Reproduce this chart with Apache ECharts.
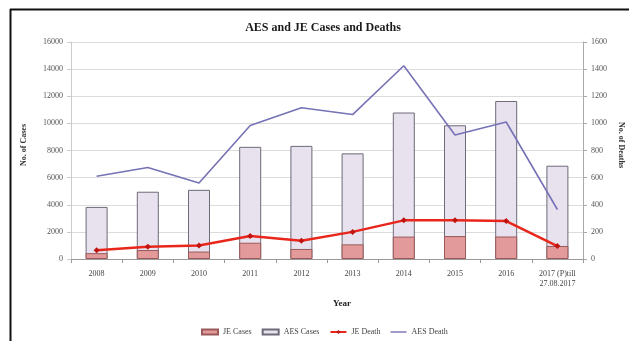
<!DOCTYPE html>
<html>
<head>
<meta charset="utf-8">
<script src="https://cdn.jsdelivr.net/npm/echarts@6/dist/echarts.min.js"></script>
<style>
  html, body { margin: 0; padding: 0; background: #fff; }
  #chart { width: 629px; height: 341px; }
</style>
</head>
<body>
<div id="chart"></div>
<script>
// Year categories
const years = ['2008', '2009', '2010', '2011', '2012', '2013', '2014', '2015', '2016', '2017 (P)till\n27.08.2017'];

// Case counts (left axis)
const aesCases = [3840, 4960, 5100, 8270, 8340, 7790, 10800, 9860, 11650, 6880];
const jeCases  = [430, 660, 550, 1200, 740, 1080, 1650, 1690, 1660, 960];

// Death counts (right axis)
const jeDeaths  = [65, 90, 100, 170, 135, 200, 285, 285, 280, 95];
const aesDeaths = [610, 675, 560, 985, 1115, 1065, 1425, 915, 1010, 365];

const FONT = 'Liberation Serif';
const plain = v => String(v);
const chart = echarts.init(document.getElementById('chart'), null, { renderer: 'canvas' });

chart.setOption({
  backgroundColor: '#ffffff',
  animation: false,
  textStyle: { fontFamily: FONT },
  title: {
    text: 'AES and JE Cases and Deaths',
    left: 318, top: 17, textAlign: 'center',
    textStyle: { fontFamily: FONT, fontSize: 12, fontWeight: 'bold', color: '#1a1a1a' }
  },
  graphic: [
    // outer frame (top and left edges)
    { type: 'line', shape: { x1: 10, y1: 9.5, x2: 629, y2: 9.5 }, style: { stroke: '#111', lineWidth: 2 } },
    { type: 'line', shape: { x1: 10.5, y1: 9, x2: 10.5, y2: 341 }, style: { stroke: '#111', lineWidth: 2 } },
    // axis titles
    { type: 'text', left: 20, top: 124, rotation: Math.PI / 2, style: { text: 'No. of Cases', font: 'bold 8px "Liberation Serif"', fill: '#333' } },
    { type: 'text', left: 617, top: 122, rotation: -Math.PI / 2, style: { text: 'No. of Deaths', font: 'bold 8px "Liberation Serif"', fill: '#333' } },
    { type: 'text', left: 333, top: 299, style: { text: 'Year', font: 'bold 9px "Liberation Serif"', fill: '#222' } }
  ],
  legend: {
    left: 196, top: 323,
    itemWidth: 16, itemHeight: 5, itemGap: 10,
    textStyle: { fontFamily: FONT, fontSize: 8, color: '#444' },
    data: [
      { name: 'JE Cases', icon: 'rect' },
      { name: 'AES Cases', icon: 'rect' },
      { name: 'JE Death' },
      { name: 'AES Death', icon: 'path://M0,0H16V1.4H0Z', itemStyle: { color: '#7672b6' } }
    ]
  },
  grid: { left: 71, right: 46, top: 42, bottom: 82, containLabel: false },
  xAxis: {
    type: 'category',
    data: years,
    boundaryGap: true,
    axisLine: { lineStyle: { color: '#999' } },
    axisTick: { show: true, alignWithLabel: false, length: 4, lineStyle: { color: '#999' } },
    axisLabel: { fontFamily: FONT, fontSize: 8, color: '#444', margin: 10, lineHeight: 10, interval: 0 }
  },
  yAxis: [
    {
      type: 'value', min: 0, max: 16000, interval: 2000,
      axisLine: { show: true, lineStyle: { color: '#ccc' } },
      axisTick: { show: true, length: 4, lineStyle: { color: '#ccc' } },
      splitLine: { lineStyle: { color: '#dcdcdc' } },
      axisLabel: { fontFamily: FONT, fontSize: 8, color: '#555', margin: 8, formatter: plain }
    },
    {
      type: 'value', min: 0, max: 1600, interval: 200,
      axisLine: { show: true, lineStyle: { color: '#aaa' } },
      axisTick: { show: true, length: 4, lineStyle: { color: '#aaa' } },
      splitLine: { show: false },
      axisLabel: { fontFamily: FONT, fontSize: 8, color: '#555', margin: 8, formatter: plain }
    }
  ],
  series: [
    {
      name: 'AES Cases', type: 'bar', yAxisIndex: 0, data: aesCases,
      barWidth: 22, barGap: '-100%',
      itemStyle: { color: '#e7e2ee', borderColor: '#6e6a78', borderWidth: 1 }
    },
    {
      name: 'JE Cases', type: 'bar', yAxisIndex: 0, data: jeCases,
      barWidth: 22, barGap: '-100%',
      itemStyle: { color: '#e39a9a', borderColor: '#9a5a5a', borderWidth: 1 }
    },
    {
      name: 'JE Death', type: 'line', yAxisIndex: 1, data: jeDeaths,
      symbol: 'diamond', symbolSize: 6,
      lineStyle: { color: '#e8261c', width: 2.5 },
      itemStyle: { color: '#c0140e' }
    },
    {
      name: 'AES Death', type: 'line', yAxisIndex: 1, data: aesDeaths,
      symbol: 'none',
      lineStyle: { color: '#7672b6', width: 1.6 },
      itemStyle: { color: '#7672b6' }
    }
  ]
});
</script>
</body>
</html>
